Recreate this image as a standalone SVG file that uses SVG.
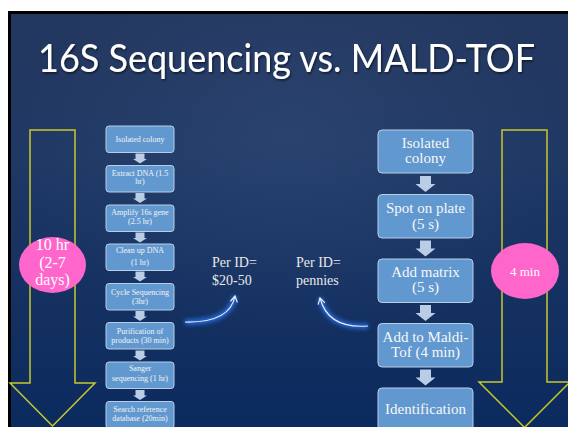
<svg xmlns="http://www.w3.org/2000/svg" width="568" height="427" viewBox="0 0 568 427">
<defs>
<linearGradient id="bg" x1="0" y1="0" x2="0" y2="1">
<stop offset="0" stop-color="#23375f"/>
<stop offset="0.35" stop-color="#1f3864"/>
<stop offset="1" stop-color="#0b2a5e"/>
</linearGradient>
<radialGradient id="glowbg" cx="0.5" cy="0.3" r="0.5">
<stop offset="0" stop-color="#3a5583" stop-opacity="0.35"/>
<stop offset="1" stop-color="#3a5583" stop-opacity="0"/>
</radialGradient>
<filter id="blur" x="-50%" y="-50%" width="200%" height="200%"><feGaussianBlur stdDeviation="2.2"/></filter>
<filter id="shadow" x="-5%" y="-20%" width="110%" height="140%"><feDropShadow dx="1" dy="1.5" stdDeviation="1" flood-color="#000" flood-opacity="0.6"/></filter>
<path id="sa" d="M-4.5,0 H4.5 V5.5 H7 L0,10 L-7,5.5 H-4.5 Z"/>
<path id="la" d="M-5.5,0 H5.5 V8 H10 L0,16 L-10,8 H-5.5 Z"/>
<marker id="ah" markerWidth="10" markerHeight="10" refX="7" refY="5" orient="auto" markerUnits="userSpaceOnUse">
<path d="M1,1.5 L7,5 L1,8.5" fill="none" stroke="#e6eef8" stroke-width="1.2"/>
</marker>
</defs>
<style>
.sb{fill:#6198cf;stroke:#b8cee8;stroke-width:1}
.st{font-family:"Liberation Serif",serif;font-size:8px;fill:#f4f4f4;text-anchor:middle}
.lt{font-family:"Liberation Serif",serif;font-size:15px;fill:#f7f7f7;text-anchor:middle}
.ar{fill:#b9cde5}
.yl{fill:none;stroke:#c8c82c;stroke-width:1.5}
.pk{fill:#ff66cc}
.pt{font-family:"Liberation Serif",serif;fill:#ffffff;text-anchor:middle}
.pr{font-family:"Liberation Serif",serif;font-size:14px;fill:#e9e9e9}
.cv{fill:none;stroke:#e6eef8;stroke-width:1.2}
.cg{fill:none;stroke:#2e7cff;stroke-width:5;opacity:0.8}
</style>
<rect x="0" y="0" width="568" height="427" fill="#ffffff"/>
<rect x="8" y="11" width="560" height="416" fill="#000000"/>
<rect x="11" y="14" width="557" height="413" fill="url(#bg)"/>
<rect x="11" y="14" width="557" height="413" fill="url(#glowbg)"/>
<g id="title">
<text x="38" y="72" font-family="Lato, 'Open Sans', sans-serif" font-size="38" fill="#ffffff" textLength="497" lengthAdjust="spacingAndGlyphs" filter="url(#shadow)">16S Sequencing vs. MALD-TOF</text>
</g>
<g id="arrow-16s">
<path class="yl" d="M30,130 H75 V383 H95 L52.5,426 L10,383 H30 Z"/>
</g>
<g id="arrow-maldi">
<path class="yl" d="M502,130 H547 V382 H570 L524.5,427.5 L479,382 H502 Z"/>
</g>
<g id="time-16s">
<ellipse class="pk" cx="52.5" cy="265" rx="33.5" ry="28"/>
<text class="pt" font-size="16" x="52.5" y="250">10 hr</text>
<text class="pt" font-size="16" x="52.5" y="268">(2-7</text>
<text class="pt" font-size="16" x="52.5" y="285">days)</text>
</g>
<g id="time-maldi">
<ellipse class="pk" cx="525" cy="271" rx="34" ry="28"/>
<text class="pt" font-size="13" x="525" y="276">4 min</text>
</g>
<g id="s1"><rect class="sb" x="106" y="126" width="68" height="26.5" rx="3"/><text class="st" x="140" y="141.5">Isolated colony</text></g>
<g id="s2"><rect class="sb" x="106" y="165.5" width="68" height="26.5" rx="3"/><text class="st" x="140" y="175.5">Extract DNA (1.5</text><text class="st" x="140" y="184">hr)</text></g>
<g id="s3"><rect class="sb" x="106" y="205" width="68" height="26.5" rx="3"/><text class="st" x="140" y="215">Amplify 16s gene</text><text class="st" x="140" y="224">(2.5 hr)</text></g>
<g id="s4"><rect class="sb" x="106" y="244" width="68" height="26.5" rx="3"/><text class="st" x="140" y="252.5">Clean up DNA</text><text class="st" x="140" y="264.5">(1 hr)</text></g>
<g id="s5"><rect class="sb" x="106" y="283.5" width="68" height="26.5" rx="3"/><text class="st" x="140" y="294.5">Cycle Sequencing</text><text class="st" x="140" y="303.5">(3hr)</text></g>
<g id="s6"><rect class="sb" x="106" y="322.5" width="68" height="26.5" rx="3"/><text class="st" x="140" y="333.5">Purification of</text><text class="st" x="140" y="342.5">products (30 min)</text></g>
<g id="s7"><rect class="sb" x="106" y="362" width="68" height="26.5" rx="3"/><text class="st" x="140" y="371">Sanger</text><text class="st" x="140" y="380.5">sequencing (1 hr)</text></g>
<g id="s8"><rect class="sb" x="106" y="401.5" width="68" height="27" rx="3"/><text class="st" x="140" y="412">Search reference</text><text class="st" x="140" y="420.5">database (20min)</text></g>
<g id="m1"><rect class="sb" x="378" y="130" width="95" height="43" rx="4"/><text class="lt" x="425.5" y="147.5">Isolated</text><text class="lt" x="425.5" y="163">colony</text></g>
<g id="m2"><rect class="sb" x="378" y="194.5" width="95" height="43.5" rx="4"/><text class="lt" x="425.5" y="213">Spot on plate</text><text class="lt" x="425.5" y="228.5">(5 s)</text></g>
<g id="m3"><rect class="sb" x="378" y="259" width="95" height="43.5" rx="4"/><text class="lt" x="425.5" y="277">Add matrix</text><text class="lt" x="425.5" y="292">(5 s)</text></g>
<g id="m4"><rect class="sb" x="378" y="323.5" width="95" height="43.5" rx="4"/><text class="lt" x="425.5" y="342">Add to Maldi-</text><text class="lt" x="425.5" y="357">Tof (4 min)</text></g>
<g id="m5"><rect class="sb" x="378" y="388" width="95" height="45" rx="4"/><text class="lt" x="425.5" y="414">Identification</text></g>
<g id="cost-16s"><text class="pr" x="212" y="267">Per ID=</text><text class="pr" x="212" y="285">$20-50</text></g>
<g id="cost-maldi"><text class="pr" x="296" y="267">Per ID=</text><text class="pr" x="296" y="285">pennies</text></g>
<g id="connectors">
<use class="ar" href="#sa" x="140" y="153.5"/>
<use class="ar" href="#sa" x="140" y="193"/>
<use class="ar" href="#sa" x="140" y="232.5"/>
<use class="ar" href="#sa" x="140" y="271.5"/>
<use class="ar" href="#sa" x="140" y="311"/>
<use class="ar" href="#sa" x="140" y="350.5"/>
<use class="ar" href="#sa" x="140" y="390"/>
<use class="ar" href="#la" x="425.5" y="176"/>
<use class="ar" href="#la" x="425.5" y="240.5"/>
<use class="ar" href="#la" x="425.5" y="305"/>
<use class="ar" href="#la" x="425.5" y="369.5"/>
<path class="cg" filter="url(#blur)" d="M185,322 Q230,323 235,296"/>
<path class="cv" marker-end="url(#ah)" d="M185,322 Q230,323 235,296"/>
<path class="cg" filter="url(#blur)" d="M368,326 Q328,329 320,298"/>
<path class="cv" marker-end="url(#ah)" d="M368,326 Q328,329 320,298"/>
</g>
</svg>
